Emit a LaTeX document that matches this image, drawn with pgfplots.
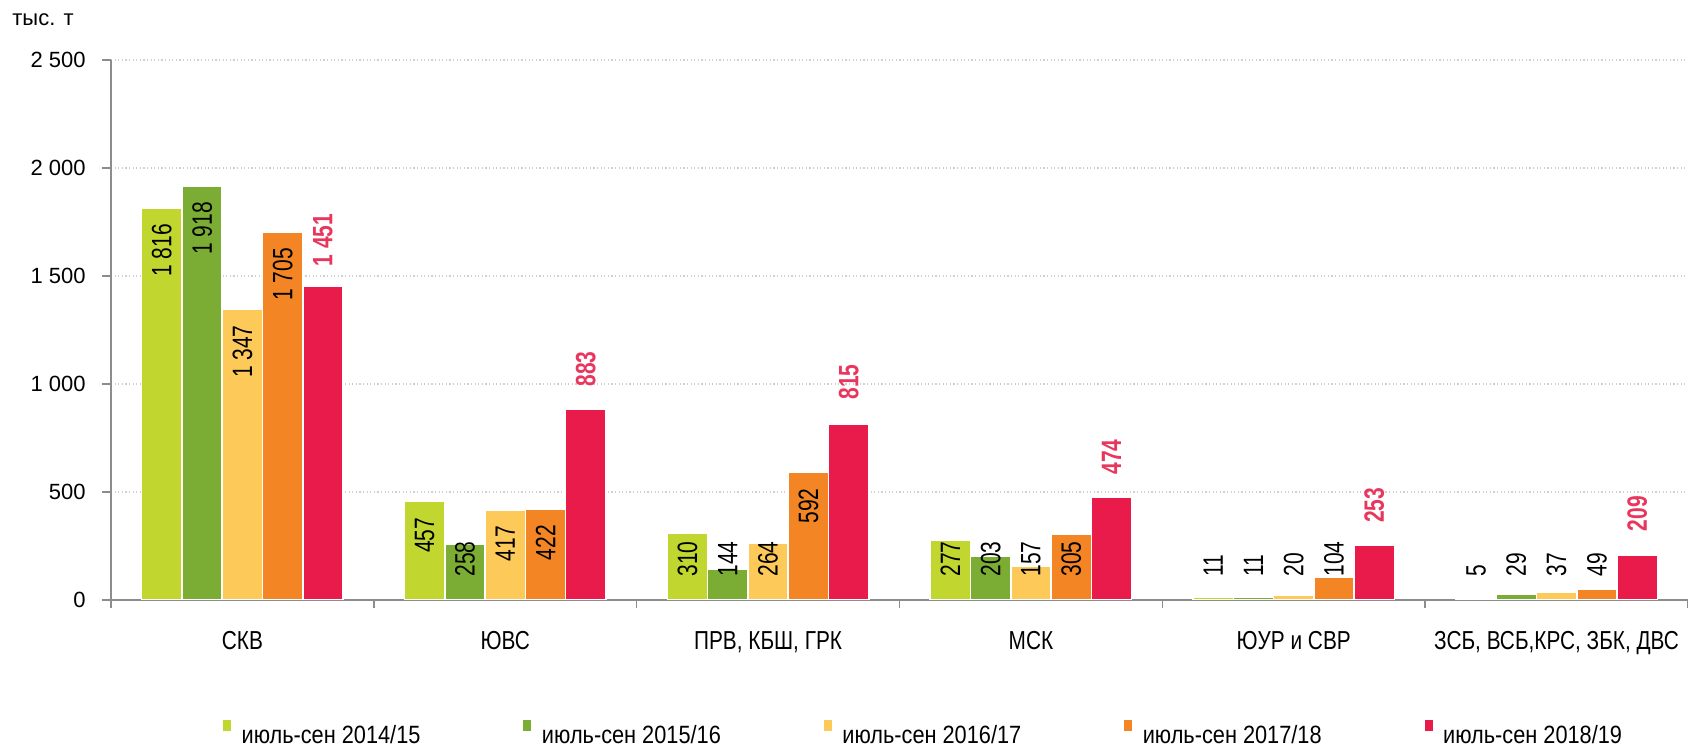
\documentclass[border=0pt]{standalone}
\usepackage{fontspec}
\setmainfont{Liberation Sans}
\newfontfamily\catfont{Liberation Sans}[FakeStretch=0.8]
\newfontfamily\legfont{Liberation Sans}[FakeStretch=0.87]
\newfontfamily\barfont{Liberation Sans}[FakeStretch=0.75]
\usepackage{pgfplots}
\pgfplotsset{compat=1.18}
\definecolor{cA}{HTML}{C1D72F}
\definecolor{cB}{HTML}{7BAD35}
\definecolor{cC}{HTML}{FDC958}
\definecolor{cD}{HTML}{F38524}
\definecolor{cE}{HTML}{E91B4B}
\definecolor{labred}{HTML}{E8365D}
\definecolor{axgray}{HTML}{8C8C8C}
\definecolor{gridgray}{HTML}{CFCFCF}
\begin{document}
\begin{tikzpicture}
\path[use as bounding box] (-55.5pt,-74.5pt) rectangle (788.5pt,300pt);
\begin{axis}[
  at={(0,0)}, anchor=south west,
  scale only axis, width=788.5pt, height=270pt,
  xmin=-0.5, xmax=5.5, ymin=0, ymax=2500,
  xtick={-0.5,0.5,1.5,2.5,3.5,4.5,5.5},
  x tick label as interval,
  xticklabels={СКВ,ЮВС,{ПРВ, КБШ, ГРК},МСК,ЮУР и СВР,{ЗСБ, ВСБ,КРС, ЗБК, ДВС}},
  ytick={0,500,1000,1500,2000,2500},
  yticklabels={0,500,1 000,1 500,2 000,2 500},
  tick align=outside, xtick pos=lower, ytick pos=left,
  major tick length=4.25pt,
  tick style={color=axgray, line width=0.7pt},
  axis x line*=bottom, axis y line*=left,
  axis line style={axgray, line width=0.9pt, -},
  ymajorgrids, grid style={gridgray, line width=0.6pt, dash pattern=on 0.6pt off 1.2pt},
  xticklabel style={font=\catfont\fontsize{13}{15}\selectfont, anchor=base, inner sep=0pt, yshift=-20.5pt},
  yticklabel style={font=\fontsize{11}{13}\selectfont, anchor=east, inner sep=0pt, xshift=-8.25pt},
  legend columns=5,
  legend style={at={(0,0)}, anchor=south west, xshift=56pt, yshift=-72pt,
    draw=none, fill=none, inner sep=0pt, outer sep=0pt,
    font=\legfont\fontsize{12.5}{14}\selectfont,
    nodes={inner sep=0pt, text depth=0pt},
    /tikz/every odd column/.append style={column sep=5.3pt}},
  legend cell align=left,
  legend image code/.code={\fill[#1, draw=none] (0pt,2.1pt) rectangle (4pt,7.6pt);},
]
\addplot[ybar, bar width=0.1533, bar shift=-0.3066, fill=cA, draw=white, line width=0.8pt]
  coordinates {(0,1816) (1,457) (2,310) (3,277) (4,11) (5,5)};
\addlegendentry{\makebox[140.9pt][l]{июль-сен 2014/15}}
\addplot[ybar, bar width=0.1533, bar shift=-0.1533, fill=cB, draw=white, line width=0.8pt]
  coordinates {(0,1918) (1,258) (2,144) (3,203) (4,11) (5,29)};
\addlegendentry{\makebox[140.9pt][l]{июль-сен 2015/16}}
\addplot[ybar, bar width=0.1533, bar shift=0, fill=cC, draw=white, line width=0.8pt]
  coordinates {(0,1347) (1,417) (2,264) (3,157) (4,20) (5,37)};
\addlegendentry{\makebox[140.9pt][l]{июль-сен 2016/17}}
\addplot[ybar, bar width=0.1533, bar shift=0.1533, fill=cD, draw=white, line width=0.8pt]
  coordinates {(0,1705) (1,422) (2,592) (3,305) (4,104) (5,49)};
\addlegendentry{\makebox[140.9pt][l]{июль-сен 2017/18}}
\addplot[ybar, bar width=0.1533, bar shift=0.3066, fill=cE, draw=white, line width=0.8pt]
  coordinates {(0,1451) (1,883) (2,815) (3,474) (4,253) (5,209)};
\addlegendentry{\makebox[140.9pt][l]{июль-сен 2018/19}}
% labels inside the bars (top end of the text)
\addplot[forget plot, draw=none, nodes near coords, point meta=explicit symbolic,
  every node near coord/.append style={rotate=90, anchor=east, inner sep=0pt, text=black,
  font=\barfont\fontsize{14}{16}\selectfont}]
  coordinates {(-0.3066,1742)[1~816] (-0.1533,1844)[1~918] (0,1273)[1~347] (0.1533,1631)[1~705]
  (0.6934,383)[457] (1.0,343)[417] (1.1533,348)[422] (2.1533,518)[592]};
% labels set near the base (bottom end of the text)
\addplot[forget plot, draw=none, nodes near coords, point meta=explicit symbolic,
  every node near coord/.append style={rotate=90, anchor=west, inner sep=0pt, text=black,
  font=\barfont\fontsize{14}{16}\selectfont}]
  coordinates {(0.8467,107)[258]
  (1.6934,107)[310] (1.8467,107)[144] (2.0,107)[264]
  (2.6934,107)[277] (2.8467,107)[203] (3.0,107)[157] (3.1533,107)[305]
  (3.6934,107)[11] (3.8467,107)[11] (4.0,107)[20] (4.1533,107)[104]
  (4.6934,107)[5] (4.8467,107)[29] (5.0,107)[37] (5.1533,107)[49]};
% red labels above the last series
\addplot[forget plot, draw=none, nodes near coords, point meta=explicit symbolic,
  every node near coord/.append style={rotate=90, anchor=west, inner sep=0pt, text=labred,
  font=\barfont\bfseries\fontsize{14}{16}\selectfont}]
  coordinates {(0.3066,1543)[1~451] (1.3066,987)[883] (2.3066,926)[815]
  (3.3066,579)[474] (4.3066,355)[253] (5.3066,316)[209]};
\end{axis}
\node[anchor=base west, inner sep=0pt, font=\fontsize{11}{13}\selectfont] at (-49.5pt,287pt) {тыс. т};
\end{tikzpicture}
\end{document}
